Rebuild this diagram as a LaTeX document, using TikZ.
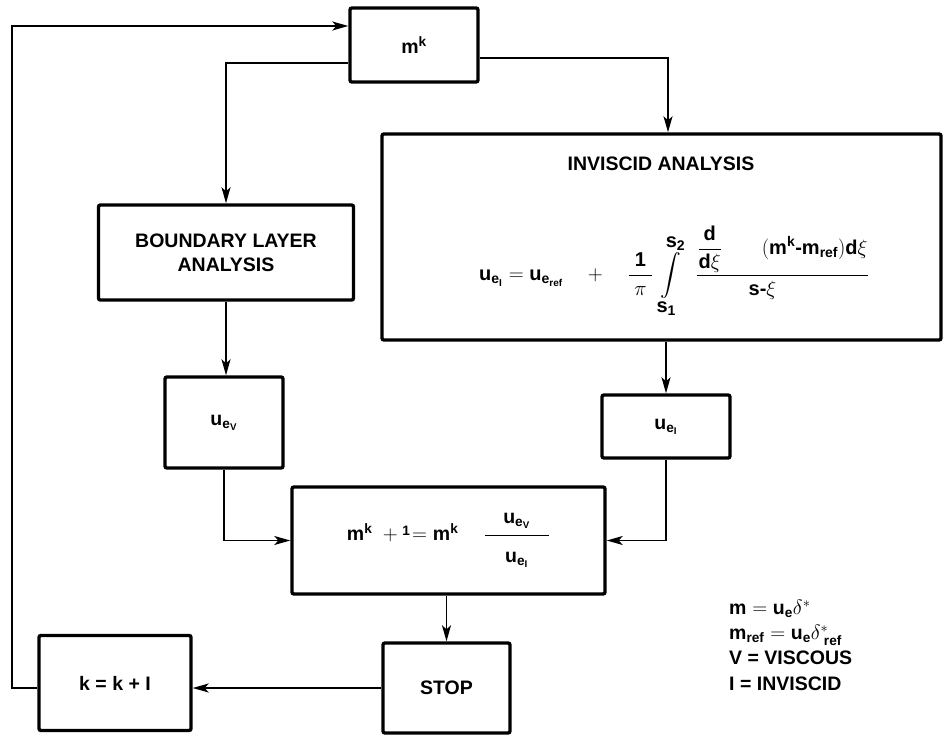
\documentclass[tikz,border=0pt]{standalone}
\usepackage{exscale}
\usepackage{fontspec}
\setmainfont{Liberation Sans}
\setsansfont{Liberation Sans}
\usetikzlibrary{arrows.meta}
\newcommand{\sm}[1]{\mathbf{#1}}
\begin{document}
\begin{tikzpicture}[x=1pt,y=-1pt,
  box/.style={draw, line width=3.4pt, rounded corners=2pt, inner sep=0pt, align=center},
  arr/.style={line width=1.8pt, -{Stealth[length=16pt,width=9pt,inset=4pt]}},
  lbl/.style={font=\fontsize{19.5}{24}\selectfont\bfseries}]
\useasboundingbox (0,0) rectangle (946,738);
\node[box, lbl, minimum width=128, minimum height=74] (mk) at (414,45) {$\sm{m}^{\sm{k}}$};
\node[box, minimum width=559, minimum height=206] (inv) at (661.5,237) {};
\node[lbl] (invt) at (661,164) {INVISCID ANALYSIS};
\node[font=\fontsize{20}{24}\selectfont\bfseries, inner sep=0pt] (eq) at (674,272)
  {$\displaystyle \sm{u}_{\sm{e}_{\sm{I}}} = \sm{u}_{\sm{e}_{\sm{ref}}} \quad+\quad \frac{\sm{1}}{\;\pi\;}\,
   \int\limits_{\textstyle\sm{s}_{\sm{1}}}^{\textstyle\sm{s}_{\sm{2}}}\;\;
   \frac{{\displaystyle\frac{\sm{d}}{\sm{d}\xi}}\qquad(\sm{m}^{\sm{k}}\mbox{-}\sm{m}_{\sm{ref}})\sm{d}\xi}{\sm{s}\mbox{-}\xi\qquad}$};
\node[box, lbl, minimum width=255, minimum height=95] (bl) at (226,252.5) {BOUNDARY LAYER\\ANALYSIS};
\node[box, lbl, minimum width=118, minimum height=91] (uev) at (224,422.5) {$\sm{u}_{\sm{e}_{\sm{V}}}$};
\node[box, lbl, minimum width=128, minimum height=63] (uei) at (666,426.5) {$\sm{u}_{\sm{e}_{\sm{I}}}$};
\node[box, lbl, minimum width=313, minimum height=107] (mk1) at (448.5,540.5)
  {$\sm{m}^{\sm{k}}\;+\raisebox{5pt}{$\scriptstyle\sm{1}$}\!=\sm{m}^{\sm{k}}\quad\;\displaystyle
   \frac{\makebox[64pt]{$\sm{u}_{\sm{e}_{\sm{V}}}$}\rule[-9pt]{0pt}{9pt}}{\rule{0pt}{24pt}\sm{u}_{\sm{e}_{\sm{I}}}}$};
\node[box, lbl, minimum width=127, minimum height=90] (stop) at (446.5,688) {STOP};
\node[box, lbl, minimum width=152, minimum height=95] (kk) at (115,683) {k = k + I};
\node[lbl, anchor=north west, align=left, inner sep=0pt] (leg) at (729,600)
  {$\sm{m}=\sm{u}_{\sm{e}}\delta^{*}$\\[1pt]
   $\sm{m}_{\sm{ref}}=\sm{u}_{\sm{e}}\delta^{*}_{\;\sm{ref}}$\\[1pt]
   V = VISCOUS\\[2pt]
   I = INVISCID};
\draw[arr] (mk.west |- 0,63) -| (bl.north);
\draw[arr] (mk.east |- 0,58) -| (668,0 |- inv.north);
\draw[arr] (bl.south) -- (uev.north -| bl.south);
\draw[arr] (uei.north |- inv.south) -- (uei.north);
\draw[arr] (uev.south) |- (mk1.west);
\draw[arr] (uei.south) |- (mk1.east);
\draw[arr] (stop.north |- mk1.south) -- (stop.north);
\draw[arr] (stop.west) -- (stop.west -| kk.east);
\draw[arr] (kk.west |- stop.west) -- (12,0 |- stop.west) |- (mk.west |- 0,26);
\end{tikzpicture}
\end{document}
